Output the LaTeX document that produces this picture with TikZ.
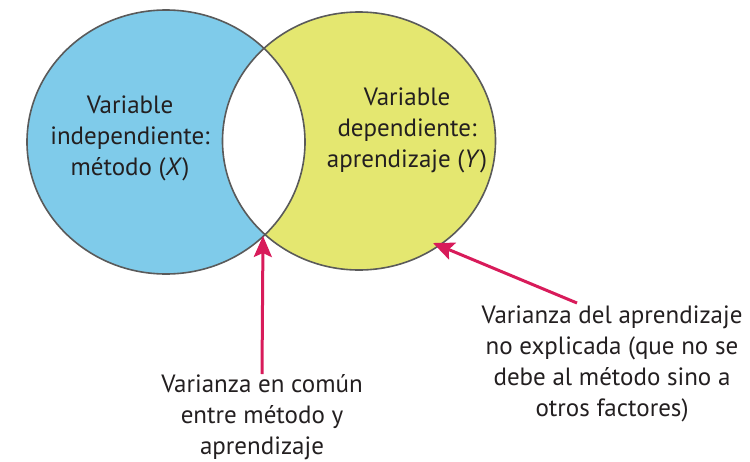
\documentclass[tikz,border=0pt]{standalone}
\usepackage{fontspec}
\setmainfont{PT Sans}
\usetikzlibrary{arrows.meta}
\definecolor{cblue}{HTML}{7FCBEA}
\definecolor{cyellow}{HTML}{E4E770}
\definecolor{cline}{HTML}{5A5A5A}
\definecolor{carrow}{HTML}{D81B5A}
\definecolor{ctext}{HTML}{231F20}
\tikzset{
  lbl/.style={align=center, inner sep=0pt, anchor=base, text=ctext,
    font=\fontsize{25}{31}\selectfont},
  pointer/.style={draw=carrow, line width=3pt,
    -{Stealth[length=21pt,width=18pt,inset=4pt]}},
  outline/.style={draw=cline, line width=1.6pt}
}
\begin{document}
\begin{tikzpicture}[x=1pt,y=-1pt]
\useasboundingbox (0,0) rectangle (750,461);
% circles
\fill[cblue] (166,142) ellipse [x radius=139pt, y radius=132pt];
\fill[cyellow] (359,141) ellipse [x radius=136.5pt, y radius=129pt];
\begin{scope}
  \clip (166,142) ellipse [x radius=139pt, y radius=132pt];
  \fill[white] (359,141) ellipse [x radius=136.5pt, y radius=129pt];
\end{scope}
\draw[outline] (166,142) ellipse [x radius=139pt, y radius=132pt];
\draw[outline] (359,141) ellipse [x radius=136.5pt, y radius=129pt];
% labels (anchored at the baseline of their last line)
\node[lbl] (x) at (130,175) {Variable\\independiente:\\método (\textit{X})};
\node[lbl] (y) at (407,167) {Variable\\dependiente:\\aprendizaje (\textit{Y})};
\node[lbl] (comun) at (262,454) {Varianza en común\\entre método y\\aprendizaje};
\node[lbl] (noexp) at (612,416) {Varianza del aprendizaje\\no explicada (que no se\\debe al método sino a\\otros factores)};
% arrows
\coordinate (tip1) at (263,236);
\coordinate (tail1) at (262,374);
\coordinate (tip2) at (433,243);
\coordinate (tail2) at (577,303);
\draw[pointer] (tail1) -- (tip1);
\draw[pointer] (tail2) -- (tip2);
\end{tikzpicture}
\end{document}
